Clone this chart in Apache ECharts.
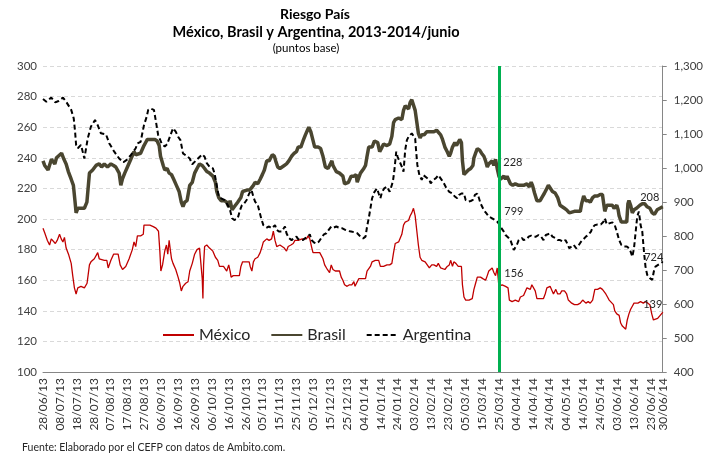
<!DOCTYPE html>
<html>
<head>
<meta charset="utf-8">
<script src="https://cdn.jsdelivr.net/npm/echarts@6/dist/echarts.min.js"></script>
<style>
  html,body{margin:0;padding:0;background:#fff;}
  #chart{width:706px;height:457px;}
</style>
</head>
<body>
<div id="chart"></div>
<script>
// eje x: días desde 28/06/13
const tickLabels=['28/06/13','08/07/13','18/07/13','28/07/13','07/08/13','17/08/13','27/08/13','06/09/13','16/09/13','26/09/13','06/10/13','16/10/13','26/10/13','05/11/13','15/11/13','25/11/13','05/12/13','15/12/13','25/12/13','04/01/14','14/01/14','24/01/14','03/02/14','13/02/14','23/02/14','05/03/14','15/03/14','25/03/14','04/04/14','14/04/14','24/04/14','04/05/14','14/05/14','24/05/14','03/06/14','13/06/14','23/06/14','30/06/14'];
const lastDay=367;
const markDay=270;//25/03/14

// México (eje izq.)
const mexico=[[0,194],[1,191],[2.6,186],[3.9,183],[4.9,187],[5.9,187],[7.3,184],[8.4,186],[9.8,190],[10.8,187],[11.8,185],[12.7,188],[13.7,181],[15.1,177],[16.7,171],[17.6,163],[18.6,155],[19.6,151],[20.6,155],[22.5,156],[24.5,155],[26.1,158],[27.5,170],[28.4,172],[30.4,174],[31.4,175],[32.4,178],[33.3,174],[34.3,173],[36.3,173],[37.8,173],[38.6,168],[40.2,173],[41.8,177],[43.1,177],[44.5,177],[45.7,170],[47.1,167],[49,169],[51,174],[52.9,180],[53.9,185],[54.9,182],[55.9,189],[57.8,189],[59.4,190],[59.8,196],[61.8,196],
[63.3,196],[65.3,195],[66.9,194],[67.6,195],[68.4,192],[69.2,179],[69.8,166],[70.8,170],[72.1,179],[73.1,183],[73.9,177],[74.7,186],[75.5,179],[76.1,174],[77,171],[78.6,167],[80,162],[81,158],[81.9,153],[82.9,156],[84.5,158],[85.9,159],[86.9,166],[88.4,171],[89.8,177],[91.2,180],[92.7,181],[93.7,182],[94.3,161],[94.7,148],[95.1,170],[95.7,182],[97,183],[98.6,181],[100.6,179],[102.1,175],[103.5,173],[104.5,169],[105.5,170],[106.9,169],[108,168],[108.8,166],[110,170],[110.8,166],[111.4,162],[112.7,163],[114.3,163],[116.3,163],[117.2,169],[118.2,172],[120.2,172],[122.1,172],
[122.7,169],[123.7,166],[124.6,172],[125.6,174],[127.2,175],[128.6,178],[129.5,181],[130.5,185],[131.5,186],[132.5,187],[133.9,186],[135.4,187],[136.4,192],[137.4,186],[138.4,182],[139.3,181],[140.3,183],[141.3,182],[142.9,181],[144.2,179],[145.2,182],[146.8,183],[148.2,184],[149.2,186],[150.1,187],[151.1,186],[152.1,185],[153.5,187],[154.6,186],[156,187],[157,189],[158,187],[159,182],[159.9,178],[160.9,178],[162.5,178],[163.9,178],[164.8,179],[165.8,174],[166.8,170],[168.4,167],[169.7,165],[170.7,170],[171.7,167],[173.1,166],[174.2,165],[175.6,166],[176.6,162],[177.6,160],[178.6,157],[180.1,156],[181.5,157],[182.9,157],[184.1,159],[184.8,156],
[186.1,159],[187,161],[188,160],[189,161],[190,162],[191,161],[191.9,166],[192.9,167],[193.9,169],[194.9,172],[195.9,171],[196.8,173],[197.8,172],[198.8,173],[199.8,169],[200.8,169],[201.7,169],[203.7,170],[205.3,170],[206.6,171],[207.6,178],[208.6,184],[209.6,185],[210.6,185],[211.6,185],[212.5,190],[213.5,196],[214.5,198],[215.5,199],[216.5,199],[217.4,202],[218.4,204],[219.4,207],[220.4,202],[221.4,192],[222.3,183],[223.3,175],[224.3,173],[225.3,174],[226.3,172],[227.2,171],[228.8,168],[230.2,170],[231.5,170],[233.1,169],[234.1,171],[235.5,168],[236.6,169],[238,167],[239.4,169],[240.6,170],[241.4,173],[242.5,169],[243.3,172],[244.5,171],[245.9,169],[246.8,170],[247.8,169],
[248.4,157],[249.3,149],[250.3,147],[252.3,147],[254.2,148],[255.2,154],[256.2,158],[257.2,162],[258.2,163],[259.1,162],[260.5,161],[262.1,160],[263.1,163],[264,166],[265,167],[266,168],[267,165],[268,163],[269,168],[269.7,168],[270,156],[270.9,156],[271.9,157],[273.9,156],[275.4,155],[276.2,147],[277.8,146],[279.7,147],[281.7,146],[282.7,149],[283.7,148],[284.6,150],[285.6,151],[286.6,155],[287.6,156],[288.6,154],[289.5,157],[290.5,158],[291.5,153],[292.5,148],[294.4,148],[296.4,148],[297.4,151],[298.4,155],[299.3,154],[300.3,156],[301.3,156],[302.3,151],[303.7,154],[304.8,151],[306.2,151],[307.2,153],[308.8,153],[310.1,151],[311.1,147],
[311.7,146],[313.1,145],[314.7,144],[316.6,144],[318.2,145],[319.6,147],[320.6,146],[321.5,145],[322.9,146],[324.1,145],[325.5,147],[326.8,154],[328.4,154],[330,155],[331.3,154],[332.3,155],[333.3,151],[334.3,149],[335.3,147],[336.3,146],[337.8,144],[338.6,140],[339.8,138],[341.2,137],[342.1,132],[343.1,130],[344.1,129],[345.1,128],[346,134],[347,138],[348,141],[349,143],[350,145],[351,144],[352.3,145],[353.9,146],[355.5,145],[356.8,146],[358.2,145],[359.4,144],[360.5,138],[361.5,134],[362.5,133],[364,135],[365.5,137],[367,139]];

// Brasil (eje izq.)
const brasil=[[0,238],[1,235],[3,232],[5,239],[7,236],[8,240],[9,241],[11,243],[12.4,239],[13.7,236],[15,231],[16.7,226],[18,222],[19,211],[19.6,204],[20.6,207],[22.5,207],[24.5,207],[26,211],[27.5,230],[29.4,232],[31.4,235],[32.4,234],[33.3,236],[34.7,234],[36.3,236],[38.2,234],[39.2,233],[40.2,236],[41.8,235],[43.1,234],[45.1,230],[46.1,222],[47,226],[48.4,230],[50,234],[52,239],[53.9,244],[54.9,242],[55.9,243],[57.8,243],[59.8,248],[60.8,250],[61.8,252],
[63.3,252],[66.3,252],[67.6,251],[68.8,248],[69.6,241],[71.2,235],[72.1,232],[73.5,233],[74.7,230],[76.1,229],[77.4,226],[79,222],[80.6,218],[81.9,211],[82.9,208],[83.9,211],[85.3,212],[86.9,222],[88.4,224],[89.8,230],[91.2,233],[92.7,236],[94.3,235],[95.7,233],[97,231],[98.6,230],[100.6,228],[102.1,224],[102.9,218],[104.1,214],[105.5,212],[107.4,212],[108.8,211],[110,208],[110.8,212],[112,206],[113.3,208],[115.3,211],[117.2,214],[118.2,218],[119.2,219],[121.2,219],
[122.5,219],[123.3,220],[124.6,222],[125.6,224],[127.2,223],[128.6,226],[129.9,229],[131.1,232],[132.5,238],[133.9,238],[135,239],[135.8,242],[137,241],[137.8,238],[139,234],[140.3,233],[141.3,233],[142.9,235],[144.2,236],[145.6,238],[147.2,241],[148.8,243],[150.1,244],[151.1,247],[152.7,247],[154,251],[155.4,255],[156.6,258],[157.4,260],[158.6,257],[159.3,254],[160.9,247],[162.9,247],[164.4,246],[165.8,241],[167.2,234],[168.8,233],[169.7,235],[171.1,238],[171.7,235],[172.7,233],[173.7,231],[174.6,232],[175.6,230],[177.6,228],[178.6,223],[179.5,222],[180.9,224],[182.5,228],[184.1,228],[185.4,229],
[186.1,224],[187,227],[188,230],[189,231],[190,233],[191,235],[191.9,241],[192.9,247],[193.9,248],[194.9,247],[196.3,251],[197.4,252],[198.2,250],[199.4,244],[200.8,247],[201.7,249],[203.7,248],[205.3,249],[206.6,254],[207.6,263],[208.6,265],[209.6,265],[210.6,266],[211.6,267],[212.5,265],[213.5,271],[214.5,274],[215.5,273],[216.5,272],[217.4,276],[218.4,278],[219.4,279],[220.4,271],[221.4,263],[222.3,256],[223.3,253],[224.3,255],[225.7,255],[227.2,257],[228.8,257],[230.2,257],[231.5,257],[233.1,258],[234.1,259],[235.5,255],[236.6,252],[238,247],[239.4,244],[240.6,241],[241.4,243],[242.5,247],[243.9,250],[244.9,248],[245.9,247],[246.8,252],[247.8,250],
[248.4,238],[249.3,229],[250.3,230],[251.9,232],[253.3,233],[254.6,235],[255.2,240],[256.2,243],[257.2,246],[258.6,245],[259.7,243],[261.1,241],[262.1,238],[263.1,234],[264,236],[265,235],[266,238],[267,235],[268,239],[269,233],[270,228],[270.9,226],[271.9,227],[272.9,228],[273.9,226],[274.8,228],[275.8,229],[276.8,223],[278.2,222],[279.7,223],[281.7,222],[283.3,222],[284.6,222],[286.6,223],[288,221],[289.1,224],[289.9,222],[291.1,217],[292.5,212],[294.4,212],[295.4,214],[297,217],[298.4,220],[299.3,222],[300.3,221],[301.7,218],[303.3,217],[304.8,214],[306.2,209],[307.2,208],[308.8,207],[310.1,206],
[311.7,204],[312.7,205],[314.7,205],[316.6,205],[318.2,205],[319,210],[320.2,215],[321.5,212],[322.9,212],[324.1,211],[325.5,214],[326.8,215],[328.4,215],[330,216],[331.3,216],[332.3,217],[332.7,205],[333.9,209],[335.3,209],[337.2,209],[338.2,207],[339.8,209],[340.6,206],[341.2,202],[342.5,198],[344.1,198],[345.7,198],[346.4,210],[347,212],[348,209],[349,204],[350,206],[351.5,207],[352.3,208],[353.5,209],[354.9,210],[356.3,210],[357.8,208],[359.4,207],[360.8,204],[362.1,203],[363.7,206],[364.7,207],[367,208]];

// Argentina (eje der.)
const argentina=[[0,1203],[2,1195],[4.9,1207],[7.3,1193],[9.2,1197],[11.8,1207],[13.7,1195],[16.7,1171],[18.2,1146],[19,1107],[19.6,1068],[20.6,1058],[22.5,1068],[24.5,1028],[26.5,1087],[28.4,1122],[30.8,1141],[32.4,1126],[34.3,1102],[37.3,1099],[39.2,1073],[42.2,1048],[45.1,1028],[47.6,1017],[49.6,1024],[52,1038],[54.9,1058],[55.9,1072],[57.8,1077],[59.8,1126],
[61.4,1151],[62.3,1171],[63.7,1175],[65.7,1171],[66.9,1136],[68.2,1097],[70.2,1073],[72.1,1063],[73.5,1070],[75.5,1097],[77,1117],[78.6,1107],[80,1092],[81.4,1082],[82.9,1043],[84.9,1036],[86.9,1028],[88.4,1011],[89.8,1018],[91.8,1028],[94.3,1040],[95.7,1033],[97,1014],[98.6,1004],[100.6,999],[101.6,984],[102.5,960],[104.1,916],[105.5,911],[107.4,906],[109.4,891],[110.8,876],[112,852],[113.3,847],[115.3,852],[116.7,876],[117.8,891],[119.2,896],[120.6,906],[122.1,925],[123.5,935],
[124.6,915],[125.6,901],[127.2,891],[128,876],[129.2,852],[130.5,832],[132.5,825],[133.9,828],[135.4,823],[136.4,828],[137.4,832],[138.4,818],[139.7,813],[141.3,813],[142.3,818],[143.3,828],[144.2,808],[145.6,794],[147.2,788],[148.8,794],[150.1,798],[151.1,791],[152.7,788],[154,788],[155.4,794],[157,798],[158,805],[159,788],[160.5,781],[161.9,778],[163.3,783],[164.8,794],[166.4,805],[167.8,808],[169.2,818],[170.7,828],[172.3,825],[173.7,828],[175,825],[177,823],[179,818],[180.5,815],[182.5,813],[184.4,811],
[186.1,808],[188,798],[189.6,793],[191,798],[191.9,827],[192.9,852],[193.9,881],[194.9,911],[196.3,930],[197.8,940],[198.8,925],[199.8,911],[200.8,930],[202.1,940],[203.7,945],[205.3,930],[206.1,925],[207.2,960],[208,989],[209.2,1048],[210,1033],[211.2,1019],[212.5,1004],[213.5,989],[214.5,1053],[215.5,1082],[216.5,1092],[217.4,1097],[218.4,1102],[219.4,1107],[220.4,1087],[221,1048],[221.7,1009],[222.9,979],[224.3,965],[225.3,979],[226.3,984],[227.6,970],[228.8,965],[229.6,955],[231.2,965],[232.7,970],[234.1,979],[235.1,984],[236.1,965],[237.4,955],[239,940],[240.6,930],[242.5,925],[243.9,916],[245.3,911],[246.5,921],[247.8,925],
[249.3,925],[250.3,906],[251.9,901],[253.3,903],[254.6,906],[255.8,921],[257.2,925],[258.2,911],[259.1,896],[260.1,886],[261.1,876],[262.5,867],[264,857],[265,852],[266,852],[267.6,847],[269,842],[270,836],[270.9,827],[271.9,822],[272.9,813],[273.9,803],[275.8,794],[276.8,788],[277.8,774],[278.8,759],[279.7,764],[280.7,775],[281.7,788],[282.7,783],[283.7,794],[284.6,788],[285.6,783],[286.6,791],[287.6,798],[289.1,801],[290.5,798],[291.9,798],[293.5,803],[295,798],[296.4,788],[297.8,803],[299,805],[300.3,808],[301.7,798],[303.3,794],[304.8,788],[306.2,788],[308.2,783],[309.5,788],
[310.4,783],[311.7,764],[312.7,762],[314.3,774],[315.7,764],[317,771],[318.6,783],[320.2,791],[321.5,798],[322.9,803],[324.5,813],[325.5,825],[326.8,832],[328.4,834],[330.4,834],[331.9,842],[332.7,852],[333.9,834],[335.3,837],[337.2,840],[338.6,832],[339.8,813],[341.2,788],[342.5,774],[344.1,769],[345.7,769],[347,764],[348,754],[349,739],[350,764],[351,813],[351.9,857],[352.9,872],[353.9,832],[354.9,813],[355.9,754],[356.8,710],[357.8,686],[359.4,676],[360.8,671],[361.7,695],[362.7,710],[363.7,715],[367,724]];

// etiquetas de datos: [día, texto]
const labelsMexico=[[270,'156'],[367,'139']];
const labelsBrasil=[[270,'228'],[367,'208']];
const labelsArgentina=[[270,'799'],[367,'724']];

const FONT='Lato, "Open Sans", sans-serif';
const TXT='#404040';

function withLabels(points,labels,offsets){
    return points.map((p)=>{
        let hit=labels.find((l)=>l[0]===p[0]);
        if(!hit) return p;
        return {
            value:p,
            symbol:'circle',
            symbolSize:1,
            label:{
                show:true,
                position:'inside',
                formatter:hit[1],
                offset:offsets[hit[0]===markDay?0:1],
                fontFamily:FONT,
                fontSize:11,
                color:'#262626',
            },
        };
    });
}

function thousands(v){
    return String(v).replace(/\B(?=(\d{3})+(?!\d))/g,',');
}

let myChart=echarts.init(document.getElementById('chart'),null,{renderer:'canvas'});

let option={
    animation:false,
    backgroundColor:'#fff',
    textStyle:{fontFamily:FONT},
    graphic:[
        {type:'text',x:315,y:14,style:{text:'Riesgo País',font:'bold 14px '+FONT,fill:'#000',align:'center',verticalAlign:'middle'}},
        {type:'text',x:316,y:32,style:{text:'México, Brasil y Argentina, 2013-2014/junio',font:'bold 14.5px '+FONT,fill:'#000',align:'center',verticalAlign:'middle'}},
        {type:'text',x:306,y:48,style:{text:'(puntos base)',font:'11.5px '+FONT,fill:'#000',align:'center',verticalAlign:'middle'}},
        {type:'text',x:22,y:448,style:{text:'Fuente: Elaborado por el CEFP con datos de Ambito.com.',font:'10.5px '+FONT,fill:'#262626',verticalAlign:'middle'}},
    ],
    legend:{
        left:162,
        top:327,
        padding:0,
        itemWidth:31,
        itemHeight:14,
        itemGap:20,
        itemStyle:{opacity:0},
        textStyle:{fontFamily:FONT,fontSize:16,color:'#262626'},
        data:['México','Brasil','Argentina'],
    },
    grid:{left:43,right:39,top:66,bottom:85,containLabel:false},
    xAxis:{
        type:'value',
        min:0,
        max:lastDay,
        interval:10,
        axisLine:{show:true,lineStyle:{color:'#868686',width:1}},
        axisTick:{show:false},
        splitLine:{show:false},
        axisLabel:{
            rotate:90,
            margin:6,
            fontFamily:FONT,
            fontSize:12,
            color:'#333',
            showMinLabel:true,
            showMaxLabel:true,
            hideOverlap:false,
            formatter:function(v){
                return v%10===0?tickLabels[v/10]:tickLabels[tickLabels.length-1];
            },
        },
    },
    yAxis:[
        {
            type:'value',
            min:100,
            max:300,
            interval:20,
            axisLine:{show:false},
            axisTick:{show:false},
            axisLabel:{fontFamily:FONT,fontSize:11.5,color:TXT,margin:6},
            splitLine:{show:true,lineStyle:{color:'#D9D9D9',type:[4,3],width:1}},
        },
        {
            type:'value',
            position:'right',
            min:400,
            max:1300,
            interval:100,
            axisLine:{show:true,lineStyle:{color:'#868686',width:1}},
            axisTick:{show:true,length:4,lineStyle:{color:'#868686'}},
            axisLabel:{fontFamily:FONT,fontSize:11.5,color:TXT,margin:11,formatter:thousands},
            splitLine:{show:false},
        },
    ],
    series:[
        {
            name:'México',
            type:'line',
            yAxisIndex:0,
            symbol:'none',
            color:'#C00000',
            lineStyle:{width:1.3,color:'#C00000'},
            data:withLabels(mexico,labelsMexico,[[15,-13],[-10,-8]]),
            markLine:{
                silent:true,
                symbol:['none','none'],
                label:{show:false},
                lineStyle:{color:'#00B050',width:3,type:'solid'},
                data:[{xAxis:markDay}],
            },
        },
        {
            name:'Brasil',
            type:'line',
            yAxisIndex:0,
            symbol:'none',
            color:'#4A4630',
            lineStyle:{width:3.5,color:'#4A4630'},
            data:withLabels(brasil,labelsBrasil,[[14,-14],[-13,-9]]),
        },
        {
            name:'Argentina',
            type:'line',
            yAxisIndex:1,
            symbol:'none',
            color:'#000',
            lineStyle:{width:2,color:'#000',type:[5,3]},
            data:withLabels(argentina,labelsArgentina,[[15,-12],[-9,-4]]),
        },
    ],
};

myChart.setOption(option);
</script>
</body>
</html>
